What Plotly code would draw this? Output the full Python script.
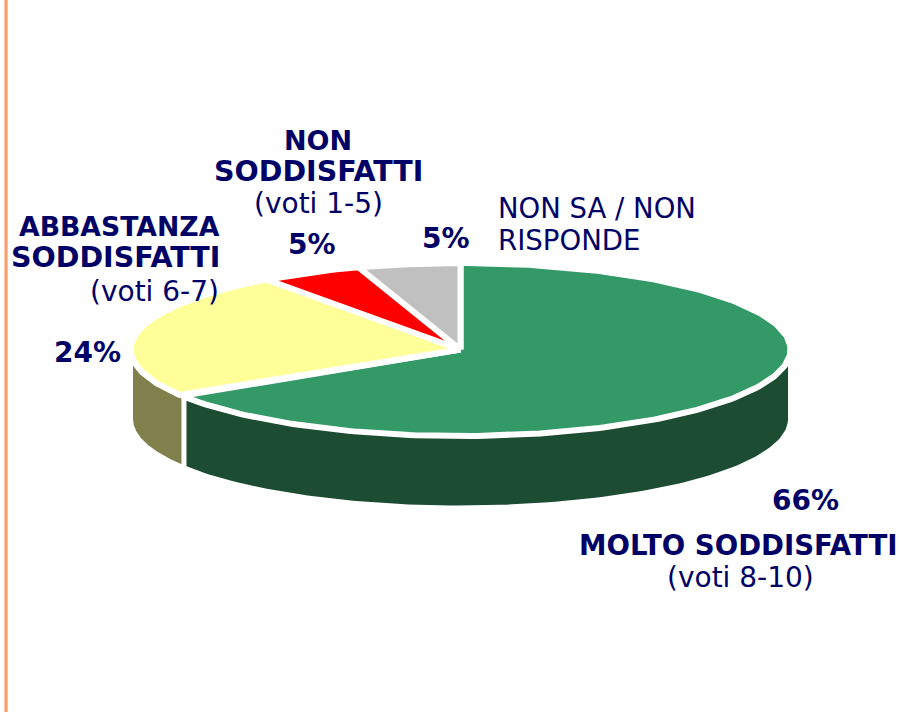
import numpy as np
import plotly.graph_objects as go

# Data
categories = ["MOLTO SODDISFATTI", "ABBASTANZA SODDISFATTI", "NON SODDISFATTI", "NON SA / NON RISPONDE"]
values = [66, 24, 5, 5]
percent_labels = ["66%", "24%", "5%", "5%"]
top_colors = ["#339966", "#FFFF99", "#FF0000", "#C0C0C0"]
side_colors = ["#1C4D33", "#80804D", "#800000", "#606060"]

# Pseudo-3D projection of the pie (pixel-like axis units)
CX, CY, RY, DEPTH = 460.5, 349.5, 86.5, 69.5
RX_TOP, RX_SIDE = 330, 327.5
NAVY = "#000066"
FONT = "DejaVu Sans"


def project(theta_deg, rx):
    t = np.radians(theta_deg)
    return CX + rx * np.sin(t), CY - RY * np.cos(t)


fig = go.Figure()

edges = np.concatenate([[0], np.cumsum(values)]) * 360 / sum(values)

# Side walls: only the front half of the rim (90 to 270 degrees) is visible
for i in range(len(values)):
    a, b = max(edges[i], 90), min(edges[i + 1], 270)
    if b <= a:
        continue
    th = np.linspace(a, b, 120)
    x, y = project(th, RX_SIDE)
    fig.add_trace(go.Scatter(
        x=np.concatenate([x, x[::-1]]),
        y=np.concatenate([y, y[::-1] + DEPTH]),
        mode="lines", fill="toself", fillcolor=side_colors[i],
        line=dict(width=0), hoverinfo="skip", showlegend=False))

# White separators between visible wall segments
for e in edges[1:-1]:
    if 90 < e < 270:
        x, y = project(e, RX_SIDE)
        fig.add_trace(go.Scatter(x=[x, x], y=[y, y + DEPTH + 2], mode="lines",
                                 line=dict(color="white", width=5),
                                 hoverinfo="skip", showlegend=False))

# Top faces
for i in range(len(values)):
    th = np.linspace(edges[i], edges[i + 1], 240)
    x, y = project(th, RX_TOP)
    fig.add_trace(go.Scatter(
        x=np.concatenate([[CX], x, [CX]]),
        y=np.concatenate([[CY], y, [CY]]),
        mode="lines", fill="toself", fillcolor=top_colors[i],
        line=dict(color="white", width=6),
        name=categories[i], text=percent_labels[i], hoverinfo="name+text",
        showlegend=False))

# Text: (text, x, y, bold, anchor, size)
label_lines = [
    ("NON", 318, 140, True, "center", 27),
    ("SODDISFATTI", 318, 171, True, "center", 28.5),
    ("(voti 1-5)", 318, 203, False, "center", 28),
    (percent_labels[2], 312, 244, True, "center", 28),
    (percent_labels[3], 446, 238, True, "center", 28),
    ("NON SA / NON", 496, 208, False, "left", 27.5),
    ("RISPONDE", 496, 240, False, "left", 27.6),
    ("ABBASTANZA", 222, 226, True, "right", 26.7),
    ("SODDISFATTI", 222, 257, True, "right", 28.5),
    ("(voti 6-7)", 221, 291, False, "right", 28),
    (percent_labels[1], 87, 352, True, "center", 28),
    (percent_labels[0], 805, 500, True, "center", 28),
    ("MOLTO SODDISFATTI", 738.5, 545, True, "center", 27.6),
    ("(voti 8-10)", 740, 577, False, "center", 28),
]
for text, x, y, bold, anchor, size in label_lines:
    fig.add_annotation(x=x, y=y, xref="x", yref="y", showarrow=False,
                       text=f"<b>{text}</b>" if bold else text,
                       xanchor=anchor, yanchor="middle",
                       font=dict(family=FONT, size=size, color=NAVY))

fig.add_shape(type="line", x0=6, x1=6, y0=0, y1=712, xref="x", yref="y",
              line=dict(color="#FF9966", width=3))

fig.update_layout(
    width=900, height=712, autosize=False,
    margin=dict(l=0, r=0, t=0, b=0),
    paper_bgcolor="white", plot_bgcolor="white",
    xaxis=dict(range=[0, 900], visible=False, fixedrange=True),
    yaxis=dict(range=[712, 0], visible=False, fixedrange=True),
)

fig.write_html("out.html", config={"displayModeBar": False},
               post_script="document.body.style.margin='0';document.body.style.overflow='hidden';")
